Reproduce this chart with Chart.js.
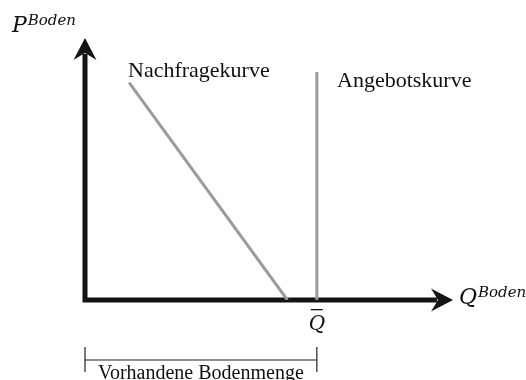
<!DOCTYPE html>
<html>
<head>
<meta charset="utf-8">
<script src="https://cdn.jsdelivr.net/npm/chart.js@4/dist/chart.umd.min.js"></script>
<style>
  html, body { margin: 0; padding: 0; background: #fff; }
  #wrap { width: 526px; height: 380px; }
</style>
</head>
<body>
<div id="wrap"><canvas id="bodenChart"></canvas></div>
<script>
// Bodenmarkt: fallende Nachfrage, vollkommen unelastisches Angebot
const demandQ = [12, 55];
const demandP = [83, 0];
const supplyQ = [63, 63];
const supplyP = [0, 87];
const qBar = 63;

const axisColor = '#141414';
const curveColor = '#9b9b9b';
const serif = '"Liberation Serif", "Times New Roman", serif';
const mathFont = '"DejaVu Serif", serif';

const toPoints = (xs, ys) => xs.map((x, i) => ({ x: x, y: ys[i] }));

function arrowHead(ctx, tipX, tipY, dir) {
  // dir: 'up' or 'right'
  const len = 22, half = 11.5, notch = 15;
  ctx.save();
  ctx.translate(tipX, tipY);
  if (dir === 'right') ctx.rotate(Math.PI / 2);
  ctx.beginPath();
  ctx.moveTo(0, 0);
  ctx.lineTo(half, len);
  ctx.lineTo(0, notch);
  ctx.lineTo(-half, len);
  ctx.closePath();
  ctx.fillStyle = axisColor;
  ctx.fill();
  ctx.restore();
}

function supText(ctx, base, sup, x, y, baseSize, supSize) {
  ctx.font = 'italic ' + baseSize + 'px ' + mathFont;
  ctx.fillText(base, x, y);
  const w = ctx.measureText(base).width;
  ctx.font = 'italic ' + supSize + 'px ' + mathFont;
  ctx.fillText(sup, x + w + 1, y - 7);
}

const annotations = {
  id: 'annotations',
  beforeDatasetsDraw(chart) {
    const ctx = chart.ctx;
    const xs = chart.scales.x, ys = chart.scales.y;
    const x0 = xs.getPixelForValue(0), y0 = ys.getPixelForValue(0);
    const xEnd = xs.getPixelForValue(100), yEnd = ys.getPixelForValue(100);

    // Achsen
    ctx.save();
    ctx.strokeStyle = axisColor;
    ctx.lineWidth = 5;
    ctx.lineJoin = 'miter';
    ctx.lineCap = 'butt';
    ctx.beginPath();
    ctx.moveTo(x0, yEnd + 16);
    ctx.lineTo(x0, y0);
    ctx.lineTo(xEnd - 16, y0);
    ctx.stroke();
    ctx.restore();
    arrowHead(ctx, x0, yEnd, 'up');
    arrowHead(ctx, xEnd, y0, 'right');
  },
  afterDatasetsDraw(chart) {
    const ctx = chart.ctx;
    const xs = chart.scales.x, ys = chart.scales.y;
    const x0 = xs.getPixelForValue(0), y0 = ys.getPixelForValue(0);
    const xEnd = xs.getPixelForValue(100);
    const xq = xs.getPixelForValue(qBar);

    ctx.save();
    ctx.fillStyle = '#111';
    ctx.textBaseline = 'alphabetic';
    ctx.textAlign = 'left';

    // Achsenbeschriftungen
    supText(ctx, 'P', 'Boden', 12, 32, 22, 15);
    supText(ctx, 'Q', 'Boden', xEnd + 6, y0 + 4, 22, 15);

    // Kurvenbeschriftungen
    ctx.font = '22px ' + serif;
    ctx.fillText('Nachfragekurve', 128, 77);
    ctx.fillText('Angebotskurve', 337, 87);

    // Q quer
    ctx.font = 'italic 20px ' + mathFont;
    ctx.textAlign = 'center';
    ctx.fillText('Q', xq, 330);
    ctx.fillRect(xq - 6, 309, 12, 1.3);

    // Klammer: vorhandene Bodenmenge
    ctx.strokeStyle = '#222';
    ctx.lineWidth = 1.2;
    ctx.beginPath();
    ctx.moveTo(x0, 347); ctx.lineTo(x0, 372);
    ctx.moveTo(xq, 347); ctx.lineTo(xq, 372);
    ctx.moveTo(x0, 360); ctx.lineTo(xq, 360);
    ctx.stroke();
    ctx.font = '20px ' + serif;
    ctx.fillText('Vorhandene Bodenmenge', (x0 + xq) / 2, 379);
    ctx.restore();
  }
};

new Chart(document.getElementById('bodenChart'), {
  type: 'scatter',
  data: {
    datasets: [
      {
        label: 'Nachfragekurve',
        data: toPoints(demandQ, demandP),
        showLine: true,
        borderColor: curveColor,
        borderWidth: 3,
        pointRadius: 0
      },
      {
        label: 'Angebotskurve',
        data: toPoints(supplyQ, supplyP),
        showLine: true,
        borderColor: curveColor,
        borderWidth: 3,
        pointRadius: 0
      }
    ]
  },
  options: {
    responsive: true,
    maintainAspectRatio: false,
    animation: false,
    layout: { padding: { left: 85, right: 73, top: 38, bottom: 80 } },
    scales: {
      x: { type: 'linear', min: 0, max: 100, display: false },
      y: { type: 'linear', min: 0, max: 100, display: false }
    },
    plugins: {
      legend: { display: false },
      tooltip: { enabled: false }
    }
  },
  plugins: [annotations]
});
</script>
</body>
</html>
